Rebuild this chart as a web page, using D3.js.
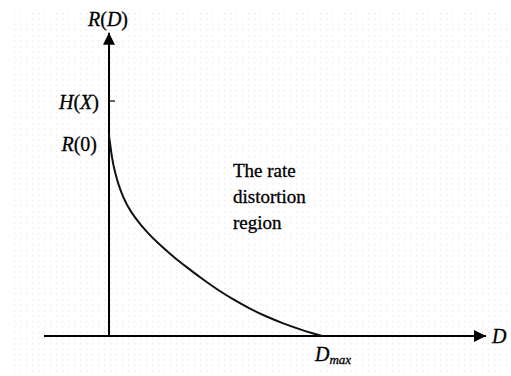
<!DOCTYPE html>
<html>
<head>
<meta charset="utf-8">
<script src="https://cdn.jsdelivr.net/npm/d3@7"></script>
<style>
  html, body { margin: 0; padding: 0; background: #fff; }
  svg { display: block; }
</style>
</head>
<body>
<svg id="chart" width="511" height="376"></svg>
<script>
// Rate–distortion curve R(D), in units where Dmax = 1 and H(X) = 1
const curveD = [0, 0.001, 0.005, 0.0127, 0.028, 0.052, 0.083, 0.122, 0.177, 0.239, 0.310, 0.372, 0.427, 0.506, 0.584, 0.662, 0.740, 0.818, 0.897, 0.959, 1];
const curveR = [0.86, 0.845, 0.821, 0.763, 0.694, 0.621, 0.557, 0.503, 0.442, 0.387, 0.331, 0.288, 0.250, 0.199, 0.155, 0.116, 0.082, 0.053, 0.028, 0.011, 0];

// Axis marks
const xAxisExtent = [-0.305, 1.77];
const yAxisExtent = [0, 1.29];
const yTicks = [{ value: 1, label: ["H", "(", "X", ")"] }];
const yStartLabel = { value: 0.847, label: ["R", "(", "0", ")"] };
const dMax = 1;
const regionText = ["The rate", "distortion", "region"];

const SERIF = "'Liberation Serif', 'Times New Roman', Times, 'DejaVu Serif', serif";

const svg = d3.select("#chart")
  .attr("font-family", SERIF)
  .style("font-family", SERIF);

// faint dotted paper texture
const defs = svg.append("defs");
const pat = defs.append("pattern")
  .attr("id", "dots").attr("width", 6).attr("height", 5.5)
  .attr("patternUnits", "userSpaceOnUse");
pat.append("rect").attr("x", 2).attr("y", 2).attr("width", 1.2).attr("height", 1.2).attr("fill", "#e4e4e4");
svg.append("rect").attr("x", 10).attr("y", 12).attr("width", 501).attr("height", 364).attr("fill", "url(#dots)");

const x = d3.scaleLinear().domain([0, 1]).range([109, 322]);
const y = d3.scaleLinear().domain([0, 1]).range([336, 101]);

defs.append("marker")
  .attr("id", "arrow").attr("viewBox", "0 0 10 10")
  .attr("refX", 10).attr("refY", 5)
  .attr("markerWidth", 14).attr("markerHeight", 12)
  .attr("markerUnits", "userSpaceOnUse")
  .attr("orient", "auto")
  .append("path").attr("d", "M0,0 L10,5 L0,10 Z").attr("fill", "#000");

// x axis
svg.append("line")
  .attr("x1", x(xAxisExtent[0])).attr("x2", x(xAxisExtent[1]))
  .attr("y1", y(0)).attr("y2", y(0))
  .attr("stroke", "#000").attr("stroke-width", 2)
  .attr("marker-end", "url(#arrow)");

// y axis
svg.append("line")
  .attr("x1", x(0)).attr("x2", x(0))
  .attr("y1", y(0) + 1).attr("y2", y(yAxisExtent[1]))
  .attr("stroke", "#000").attr("stroke-width", 2)
  .attr("marker-end", "url(#arrow)");

// tick at H(X)
svg.selectAll(".ytick").data(yTicks).enter().append("line")
  .attr("x1", x(0)).attr("x2", x(0) + 6)
  .attr("y1", d => y(d.value)).attr("y2", d => y(d.value))
  .attr("stroke", "#000").attr("stroke-width", 1.2);

// text gets a hairline stroke so the glyphs read as dark as print
function ink(t) {
  return t.attr("font-family", SERIF).attr("fill", "#000")
    .attr("stroke", "#000").attr("stroke-width", 0.3);
}

function mathLabel(g, parts, xPos, yPos, anchor) {
  const t = ink(g.append("text").attr("x", xPos).attr("y", yPos)
    .attr("text-anchor", anchor).attr("font-size", 20));
  parts.forEach(p => {
    const italic = /[A-Za-z]/.test(p);
    t.append("tspan").text(p).attr("font-style", italic ? "italic" : "normal");
  });
  return t;
}

yTicks.forEach(d => mathLabel(svg, d.label, x(0) - 10, y(d.value) + 8, "end"));
mathLabel(svg, yStartLabel.label, x(0) - 12, 151, "end");
mathLabel(svg, ["R", "(", "D", ")"], x(0) - 1, 26, "middle");

// D label at the arrow end
ink(svg.append("text").attr("x", 492).attr("y", 343))
  .attr("font-size", 20).attr("font-style", "italic").text("D");

// D_max label
const dm = ink(svg.append("text").attr("x", x(dMax) - 7).attr("y", 361))
  .attr("font-size", 20).attr("font-style", "italic");
dm.append("tspan").text("D");
dm.append("tspan").text("max").attr("font-size", 13).attr("dy", 3);

// curve
const pts = curveD.map((d, i) => [d, curveR[i]]);
svg.append("path")
  .datum(pts)
  .attr("d", d3.line().x(d => x(d[0])).y(d => y(d[1])).curve(d3.curveBasis))
  .attr("fill", "none").attr("stroke", "#111").attr("stroke-width", 2);

// region annotation
ink(svg.append("text").attr("x", 233).attr("y", 177).attr("font-size", 19))
  .selectAll("tspan").data(regionText).enter().append("tspan")
  .attr("x", 233).attr("dy", (d, i) => i === 0 ? 0 : 26).text(d => d);
</script>
</body>
</html>
